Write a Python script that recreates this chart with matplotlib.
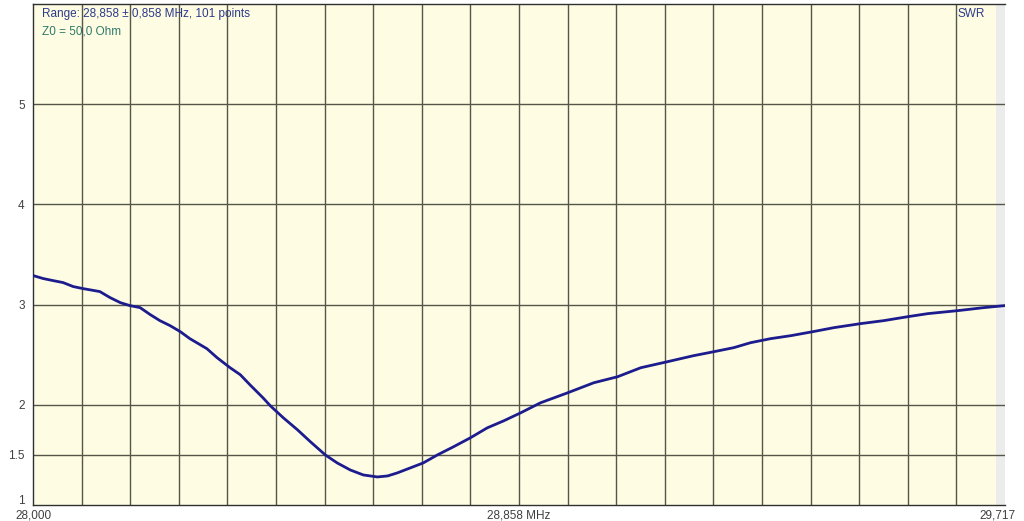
import matplotlib
matplotlib.use("Agg")
import matplotlib.pyplot as plt
import matplotlib.transforms as mtransforms

# SWR sweep
freq_mhz = [28.000, 28.018, 28.035, 28.053, 28.071, 28.088, 28.118, 28.136, 28.154, 28.171,
            28.189, 28.207, 28.224, 28.242, 28.260, 28.277, 28.307, 28.325, 28.348, 28.366,
            28.383, 28.406, 28.419, 28.442, 28.467, 28.490, 28.516, 28.537, 28.560, 28.583,
            28.608, 28.626, 28.643, 28.666, 28.689, 28.714, 28.742, 28.772, 28.802, 28.831,
            28.861, 28.896, 28.944, 28.990, 29.032, 29.073, 29.120, 29.166, 29.202, 29.237,
            29.267, 29.302, 29.338, 29.377, 29.414, 29.461, 29.502, 29.545, 29.580, 29.633,
            29.679, 29.716]
swr = [3.29, 3.26, 3.24, 3.22, 3.18, 3.16, 3.13, 3.07, 3.02, 2.99,
       2.97, 2.90, 2.84, 2.79, 2.73, 2.66, 2.56, 2.47, 2.37, 2.30,
       2.20, 2.07, 1.99, 1.87, 1.75, 1.63, 1.50, 1.42, 1.35, 1.30,
       1.28, 1.29, 1.32, 1.37, 1.42, 1.50, 1.58, 1.67, 1.77, 1.84,
       1.92, 2.02, 2.12, 2.22, 2.28, 2.37, 2.43, 2.49, 2.53, 2.57,
       2.62, 2.66, 2.69, 2.73, 2.77, 2.81, 2.84, 2.88, 2.91, 2.94,
       2.97, 2.99]

f_center = 28.858
f_span = 0.858
f_min = 28.000
f_max = f_center + f_span
n_div = 20
y_ticks = [1, 1.5, 2, 3, 4, 5]
y_labels = ["1", "1.5", "2", "3", "4", "5"]
x_ticks = [f_min, f_center, 29.703]
x_labels = ["28,000", "28,858 MHz", "29,717"]

plt.rcParams['font.family'] = ['Liberation Sans', 'DejaVu Sans']

fig = plt.figure(figsize=(10.24, 5.21), dpi=100)
ax = fig.add_axes([33 / 1024, 16 / 521, 972 / 1024, 501 / 521])
ax.set_facecolor('#fefde3')
ax.set_xlim(f_min, f_max)
ax.set_ylim(1, 6)

# grey strip at right edge
ax.axvspan(29.700, f_max, color='#ececec', lw=0, zorder=0)

grid_col = '#55554a'
step = (f_max - f_min) / n_div
for i in range(1, n_div):
    ax.axvline(f_min + i * step, color=grid_col, lw=1, zorder=1)
for yv in y_ticks[1:]:
    ax.axhline(yv, color=grid_col, lw=1, zorder=1)

ax.plot(freq_mhz, swr, color='#1c1c8e', lw=2.0, zorder=3, solid_capstyle='round')

ax.set_yticks(y_ticks)
ax.set_yticklabels(y_labels)
ax.set_xticks(x_ticks)
ax.set_xticklabels(x_labels)
ax.tick_params(length=0, labelsize=8.5, colors='#404040')
ax.tick_params(axis='y', pad=6)
ax.tick_params(axis='x', pad=3)

# lift the "1" label a bit so it clears the frequency label below
lbl = ax.get_yticklabels()[0]
lbl.set_transform(lbl.get_transform() + mtransforms.ScaledTranslation(0, 5 / 100, fig.dpi_scale_trans))

for s in ['left', 'bottom', 'top']:
    ax.spines[s].set_color('#303030')
    ax.spines[s].set_linewidth(1)
ax.spines['right'].set_visible(False)

ax.text(9 / 972, 1 - 10 / 501, "Range: 28,858 \u00b1 0,858 MHz, 101 points", transform=ax.transAxes,
        fontsize=8.5, color='#2c3a8c', ha='left', va='center')
ax.text(9 / 972, 1 - 27 / 501, "Z0 = 50,0 Ohm", transform=ax.transAxes,
        fontsize=8.5, color='#2e7a6a', ha='left', va='center')
ax.text(1 - 20 / 972, 1 - 10 / 501, "SWR", transform=ax.transAxes,
        fontsize=8.5, color='#2c3a8c', ha='right', va='center')

fig.savefig('out.png', dpi=100, facecolor='white')
